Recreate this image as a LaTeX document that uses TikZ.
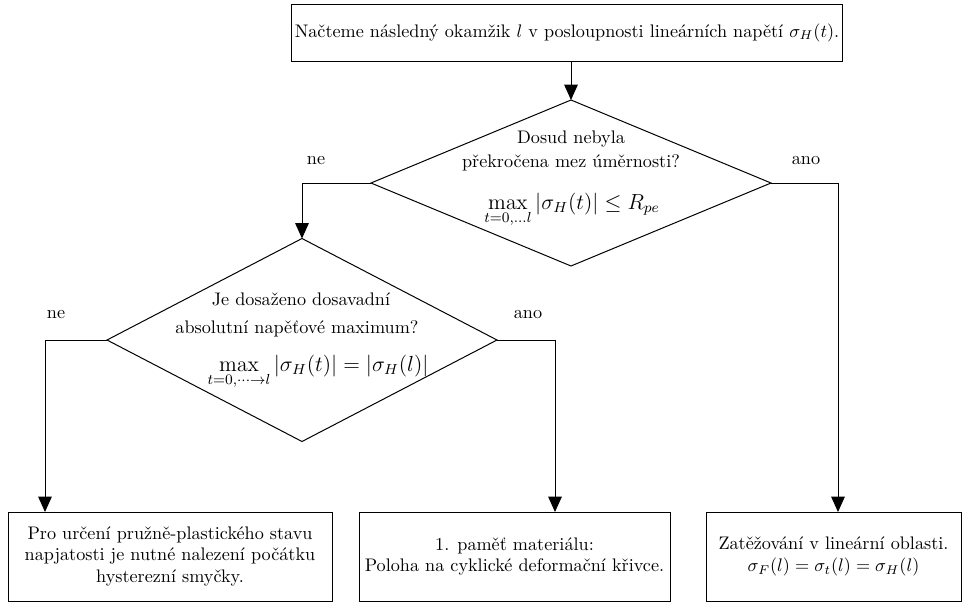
\documentclass[tikz,border=0pt]{standalone}
\usetikzlibrary{shapes.geometric,arrows.meta}
\begin{document}
\begin{tikzpicture}[x=0.55pt,y=-0.55pt,line width=0.55pt,
  arr/.style={-{Triangle[width=7.5pt,length=8.5pt]}},
  decbox/.style={draw,diamond,inner sep=0pt,outer sep=0pt},
  stepbox/.style={draw,rectangle,align=center,inner sep=2pt,outer sep=0pt},
  lbl/.style={inner sep=0pt,anchor=base},
  frm/.style={inner sep=0pt,anchor=base,font=\fontsize{11.5pt}{14pt}\selectfont}]
\useasboundingbox (0,0) rectangle (962,606);
% top box
\node[stepbox,minimum width=544*0.55pt,minimum height=57*0.55pt] (top) at (567,32.5)
  {Načteme následný okamžik $l$ v posloupnosti lineárních napětí $\sigma_H(t)$.};
% diamond 1
\node[decbox,minimum width=400*0.55pt,minimum height=166*0.55pt] (d1) at (571,183) {};
\node[lbl] (d1a) at (571,143) {Dosud nebyla};
\node[lbl] (d1b) at (571,167) {překročena mez úměrnosti?};
\node[frm] (d1c) at (572,209) {$\displaystyle\max_{t=0,\ldots l}|\sigma_H(t)|\le R_{pe}$};
% diamond 2
\node[decbox,minimum width=390*0.55pt,minimum height=203*0.55pt] (d2) at (302,340) {};
\node[lbl] (d2a) at (301,305) {Je dosaženo dosavadní};
\node[lbl] (d2b) at (297,333) {absolutní napěťové maximum?};
\node[frm] (d2c) at (318,371) {$\displaystyle\max_{t=0,\cdots\rightarrow l}|\sigma_H(t)|=|\sigma_H(l)|$};
% bottom boxes
\node[stepbox,minimum width=324*0.55pt,minimum height=89*0.55pt] (b1) at (170,556.5)
  {Pro určení pružně-plastického stavu\\napjatosti je nutné nalezení počátku\\hysterezní smyčky.};
\node[stepbox,minimum width=311*0.55pt,minimum height=89*0.55pt] (b2) at (514.5,556.5)
  {1. paměť materiálu:\\Poloha na cyklické deformační křivce.};
\node[stepbox,minimum width=255*0.55pt,minimum height=89*0.55pt] (b3) at (833.5,556.5)
  {Zatěžování v lineární oblasti.\\$\sigma_F(l)=\sigma_t(l)=\sigma_H(l)$};
% branch labels
\node[lbl] (l1) at (316,164) {ne};
\node[lbl] (l2) at (806,164) {ano};
\node[lbl] (l3) at (56,318) {ne};
\node[lbl] (l4) at (528,318) {ano};
% connector columns
\coordinate (c1) at (45,0);
\coordinate (c2) at (555,0);
\coordinate (c3) at (838,0);
% connectors
\draw[arr] (top.south -| d1.north) -- (d1.north);
\draw[arr] (d1.west) -| (d2.north);
\draw[arr] (d1.east) -| (c3 |- b3.north);
\draw[arr] (d2.west) -| (c1 |- b1.north);
\draw[arr] (d2.east) -| (c2 |- b2.north);
\end{tikzpicture}
\end{document}
